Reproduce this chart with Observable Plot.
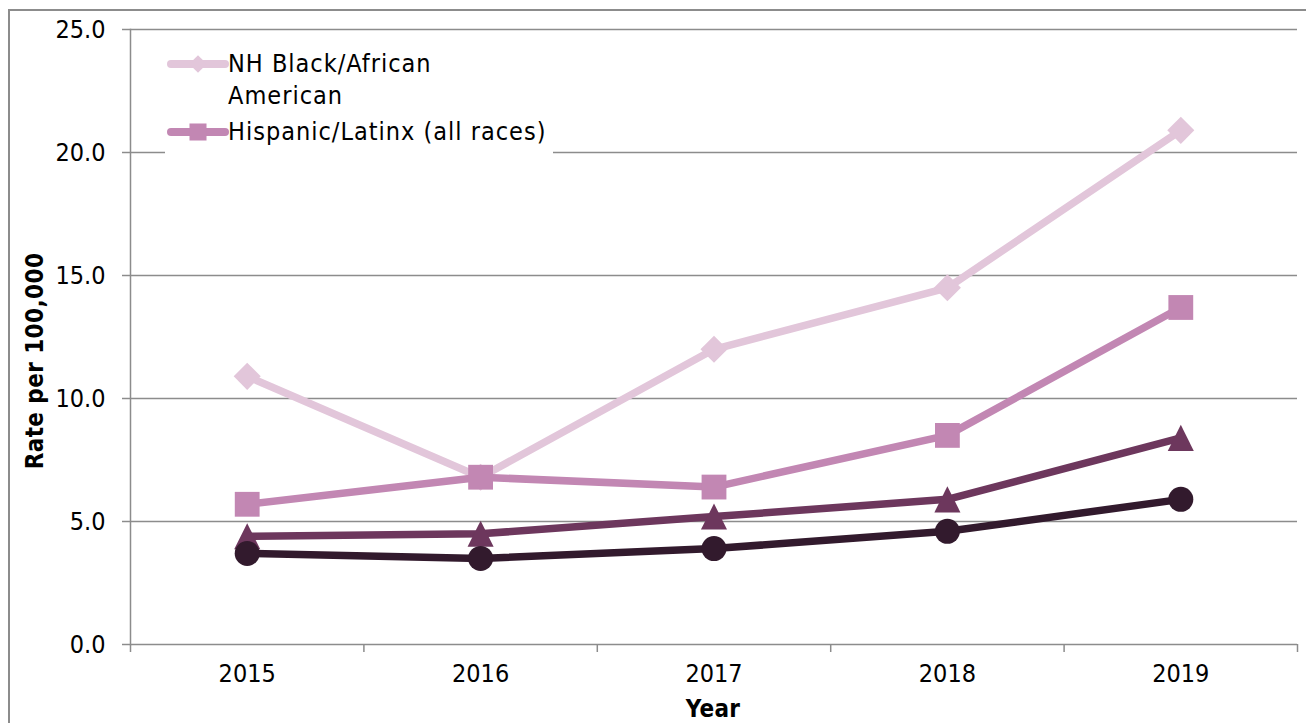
<!DOCTYPE html>
<html>
<head>
<meta charset="utf-8">
<script src="https://cdn.jsdelivr.net/npm/d3@7"></script>
<script src="https://cdn.jsdelivr.net/npm/@observablehq/plot@0.6"></script>
<style>
  html, body { margin: 0; padding: 0; background: #fff; overflow: hidden; }
  #wrap { position: relative; width: 1306px; height: 723px; overflow: hidden;
          font-family: "DejaVu Sans Condensed", "DejaVu Sans", sans-serif; color: #000; }
  #border { position: absolute; left: 8px; top: 9px; width: 1400px; height: 800px;
            border-left: 2px solid #8c8c8c; border-top: 2px solid #8c8c8c; }
  #chart { position: absolute; left: 0; top: 0; }
  #legend { position: absolute; left: 165px; top: 40px; width: 388px; height: 116px; background: #fff; }
  .sample { position: absolute; left: 2px; }
  .ltext { position: absolute; left: 63px; font-size: 25px; line-height: 32px; letter-spacing: 1.0px; white-space: pre; }
  #ytitle { position: absolute; left: 35px; top: 361px; transform: translate(-50%, -50%) rotate(-90deg);
            font-weight: bold; font-size: 24px; line-height: 24px; white-space: nowrap; letter-spacing: 0.4px; }
  #xtitle { position: absolute; left: 713px; top: 697px; transform: translateX(-50%);
            font-weight: bold; font-size: 24px; line-height: 24px; white-space: nowrap; letter-spacing: 0.3px; }
</style>
</head>
<body>
<div id="wrap">
  <div id="border"></div>
  <div id="chart"></div>
  <div id="legend"></div>
  <div id="ytitle"></div>
  <div id="xtitle"></div>
</div>
<script>
// ---- data ----
const years = [2015, 2016, 2017, 2018, 2019];
const nhBlack = [10.9, 6.8, 12.0, 14.5, 20.9];
const hispanic = [5.7, 6.8, 6.4, 8.5, 13.7];
const series3 = [4.4, 4.5, 5.2, 5.9, 8.4];
const series4 = [3.7, 3.5, 3.9, 4.6, 5.9];
const yTicks = [0, 5, 10, 15, 20, 25];
const seriesNames = ["NH Black/African American", "Hispanic/Latinx (all races)", "Series 3", "Series 4"];
const legendLabels = ["NH Black/African\nAmerican", "Hispanic/Latinx (all races)"];
const yTitle = "Rate per 100,000";
const xTitle = "Year";

// ---- styles ----
const seriesValues = [nhBlack, hispanic, series3, series4];
// triangle centred on its bounding box (as the spreadsheet marker is)
const boxTriangle = {
  draw(context, size) {
    const h = Math.sqrt(size) / 2;
    context.moveTo(0, -h);
    context.lineTo(h, h);
    context.lineTo(-h, h);
    context.closePath();
  }
};
const styles = [
  {color: "#E2C6DA", symbol: "diamond2", r: 12.2, width: 7.5},
  {color: "#C287B3", symbol: "square", r: 14.0, width: 7.5},
  {color: "#6D375D", symbol: boxTriangle, r: 14.7, width: 7.5},
  {color: "#321A2D", symbol: "circle", r: 12.5, width: 7.5}
];
const gridColor = "#8c8c8c";

const rows = seriesNames.flatMap((name, i) =>
  years.map((yr, j) => ({series: name, year: yr, value: seriesValues[i][j]})));

const bounds = years.map(y => y - 0.5).concat([years[years.length - 1] + 0.5]);

const seriesMarks = seriesNames.flatMap((name, i) => {
  const d = rows.filter(r => r.series === name);
  const s = styles[i];
  return [
    Plot.line(d, {x: "year", y: "value", stroke: s.color, strokeWidth: s.width, strokeLinejoin: "round", strokeLinecap: "butt"}),
    Plot.dot(d, {x: "year", y: "value", symbol: s.symbol, fill: s.color, r: s.r, stroke: "none"})
  ];
});

const chart = Plot.plot({
  width: 1306,
  height: 723,
  marginLeft: 130,
  marginRight: 9,
  marginTop: 29,
  marginBottom: 79,
  style: {fontFamily: '"DejaVu Sans Condensed", "DejaVu Sans", sans-serif', fontSize: "25px", color: "#000", background: "transparent", overflow: "visible"},
  x: {domain: [bounds[0], bounds[bounds.length - 1]]},
  y: {domain: [yTicks[0], yTicks[yTicks.length - 1]]},
  marks: [
    Plot.gridY(yTicks, {stroke: gridColor, strokeOpacity: 1, strokeWidth: 1.5}),
    Plot.frame({anchor: "left", stroke: gridColor, strokeWidth: 1.5}),
    Plot.axisY(yTicks, {tickSize: 8, tickPadding: 17, tickFormat: d3.format(".1f"), stroke: gridColor, strokeWidth: 1.5, label: null}),
    Plot.axisX(bounds, {tickSize: 8, tickFormat: () => "", stroke: gridColor, strokeWidth: 1.5, label: null}),
    Plot.axisX(years, {tickSize: 0, tickPadding: 20, tickFormat: d => String(d), label: null}),
    ...seriesMarks
  ]
});
document.getElementById("chart").appendChild(chart);

// ---- legend (first two series, as in the reference) ----
const legend = d3.select("#legend");
const sampleTops = [12, 80];
const textTops = [8, 76];
legendLabels.forEach((lab, i) => {
  const s = styles[i];
  const svg = legend.append("svg").attr("class", "sample")
    .attr("width", 62).attr("height", 24)
    .style("top", sampleTops[i] + "px");
  svg.append("line").attr("x1", 4).attr("x2", 58).attr("y1", 12).attr("y2", 12)
    .attr("stroke", s.color).attr("stroke-width", 8).attr("stroke-linecap", "round");
  const sym = s.symbol === "diamond2" ? d3.symbolDiamond2 : d3.symbolSquare;
  const size = s.symbol === "diamond2" ? 200 : 290;
  svg.append("path").attr("transform", "translate(31,12)")
    .attr("d", d3.symbol(sym, size)()).attr("fill", s.color);
  legend.append("div").attr("class", "ltext").style("top", textTops[i] + "px").text(lab);
});

document.getElementById("ytitle").textContent = yTitle;
document.getElementById("xtitle").textContent = xTitle;
</script>
</body>
</html>
